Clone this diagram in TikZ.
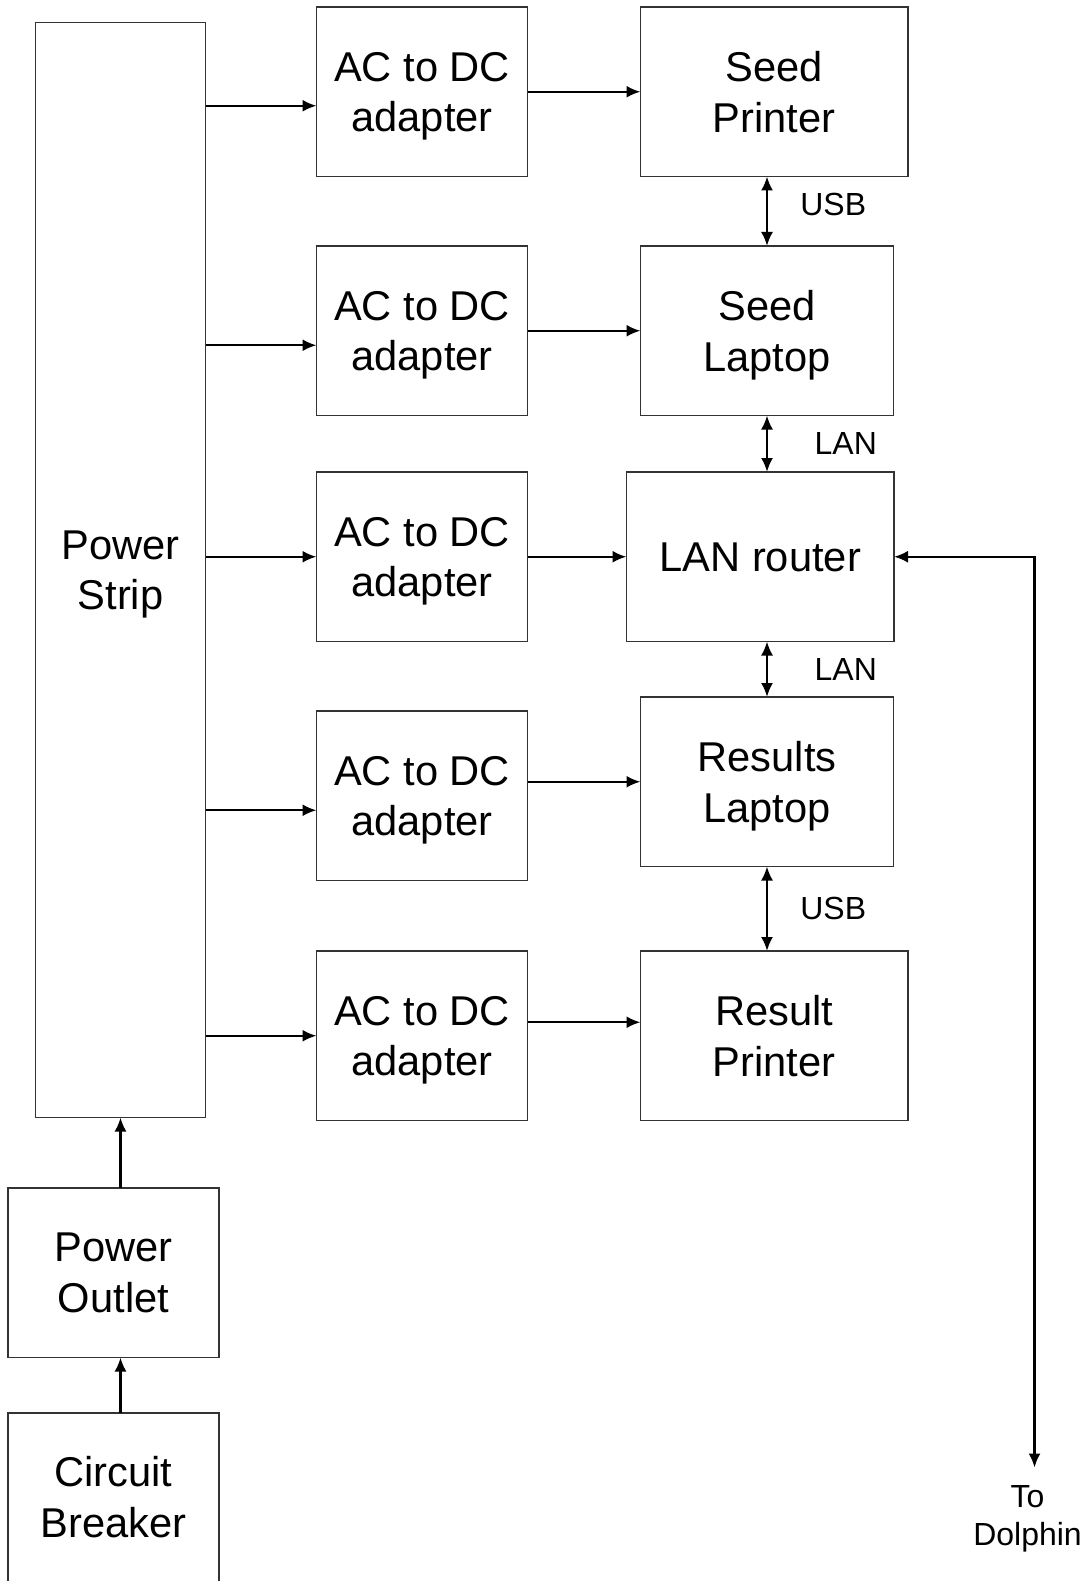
\documentclass[tikz,border=0pt]{standalone}
\usepackage{fontspec}
\setmainfont{Liberation Sans}
\usetikzlibrary{positioning,arrows.meta}

\begin{document}
\begin{tikzpicture}[thick, >={Latex[length=0.28cm,width=0.24cm]}, node distance=1.39cm]
% Definition of blocks:
\tikzset{%
  block/.style  = {draw=black!80, line width=0.8pt, rectangle, align=center, inner sep=0pt, outer sep=0pt, text depth=0pt, minimum height=3.39cm, minimum width=4.22cm, font=\fontsize{23.7}{28.7}\selectfont},
  wide/.style   = {block, minimum width=5.35cm},
  laptop/.style = {block, minimum width=5.06cm},
  lbl/.style    = {inner sep=0pt, align=center, font=\fontsize{18.2}{21.9}\selectfont},
  line/.style   = {line width=1.3pt}
}
\useasboundingbox (0,0) rectangle (21.72,-31.62);

\draw
	node [block, minimum width=3.41cm, minimum height=21.90cm] (Strip) at (2.41,-11.40) {Power\\Strip}
	node [block, anchor=north west] (A1) at (6.33,-0.14) {AC to DC\\adapter}
	node [block, below = of A1] (A2) {AC to DC\\adapter}
	node [block, below = 1.13cm of A2] (A3) {AC to DC\\adapter}
	node [block, below = of A3] (A4) {AC to DC\\adapter}
	node [block, below = 1.41cm of A4] (A5) {AC to DC\\adapter};

\draw
	node [wide, right = 2.26cm of A1] (SPrinter) {Seed\\Printer}
	node [laptop, right = 2.26cm of A2] (SLaptop) {Seed\\Laptop}
	node [wide, right = 1.98cm of A3] (Router) {LAN router}
	node [laptop, right = 2.26cm of A4, yshift=0.28cm] (RLaptop) {Results\\Laptop}
	node [wide, right = 2.26cm of A5] (RPrinter) {Result\\Printer};

\draw
	node [block, below = 1.41cm of Strip, xshift=-0.14cm] (Outlet) {Power\\Outlet}
	node [block, draw=none, below = 1.11cm of Outlet, minimum height=3.36cm] (Breaker) {Circuit\\Breaker};
% breaker runs off the page: no bottom edge
\draw[draw=black!80, line width=0.8pt](Breaker.south west) -- (Breaker.north west) -- (Breaker.north east) -- (Breaker.south east);

% power feed
\draw[->, line](Outlet.north -| Strip.south) -- (Strip.south);
\draw[->, line](Breaker.north -| Strip.south) -- (Outlet.south -| Strip.south);

\draw[<-, line]([yshift=-0.28cm]A1.west) coordinate (f1) -- (Strip.east |- f1);
\draw[<-, line]([yshift=-0.29cm]A2.west) coordinate (f2) -- (Strip.east |- f2);
\draw[<-, line](A3.west) -- (Strip.east |- A3.west);
\draw[<-, line]([yshift=-0.29cm]A4.west) coordinate (f4) -- (Strip.east |- f4);
\draw[<-, line](A5.west) -- (Strip.east |- A5.west);

\draw[->, line](A1) -- (SPrinter);
\draw[->, line](A2) -- (SLaptop);
\draw[->, line](A3) -- (Router);
\draw[->, line](A4.east |- RLaptop.west) -- (RLaptop.west);
\draw[<-, line]([yshift=0.27cm]RPrinter.west) coordinate (g5) -- (A5.east |- g5);

% data links
\draw[<->, line](SLaptop.north |- SPrinter.south) -- node[lbl, right=0.645cm, yshift=0.13cm] {USB} (SLaptop.north);
\draw[<->, line](Router.north -| SLaptop.south) -- node[lbl, right=0.93cm] {LAN} (SLaptop.south);
\draw[<->, line](Router.south -| RLaptop.north) -- node[lbl, right=0.93cm] {LAN} (RLaptop.north);
\draw[<->, line](RLaptop.south) -- node[lbl, right=0.645cm] {USB} (RPrinter.north -| RLaptop.south);

% link to the dolphin
\coordinate (DolphinEnd) at (20.69,-29.35);
\draw[<->, line](Router.east) -| (DolphinEnd);
\node [lbl, below = 0.34cm of DolphinEnd, xshift=-0.14cm] (ToDolphin) {To\\Dolphin};

\end{tikzpicture}
\end{document}
